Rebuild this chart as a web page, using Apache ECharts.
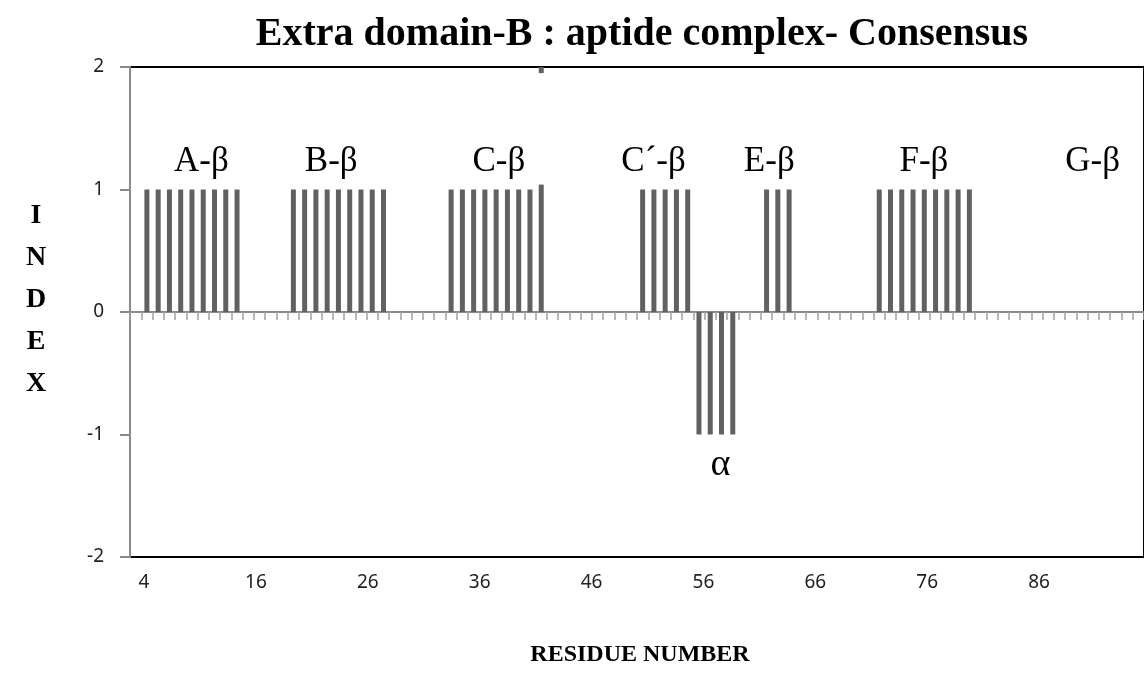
<!DOCTYPE html>
<html><head><meta charset="utf-8">
<script src="https://cdn.jsdelivr.net/npm/echarts@6/dist/echarts.min.js"></script>
<style>html,body{margin:0;padding:0;background:#fff}#c{width:1144px;height:684px}</style>
</head><body><div id="c"></div>
<script>
// Residue categories (one per bar slot)
const categories = ['4','7','8','9','10','11','12','13','14','15',
  '16','17','18','19','20','21','22','23','24','25',
  '26','27','28','29','30','31','32','33','34','35',
  '36','37','38','39','40','41','42','43','44','45',
  '46','47','48','49','50','51','52','53','54','55',
  '56','57','58','59','60','61','62','63','64','65',
  '66','67','68','69','70','71','72','73','74','75',
  '76','77','78','79','80','81','82','83','84','85',
  '86','87','88','89','90','91','92','93','94','95'];
// Tick labels shown under the plot
const tickLabels = ['4','16','26','36','46','56','66','76','86'];
// Consensus index per residue (null = no bar)
const consensus = [null,1,1,1,1,1,1,1,1,1,
  null,null,null,null,1,1,1,1,1,1,
  1,1,1,null,null,null,null,null,1,1,
  1,1,1,1,1,1,1.04,null,null,null,
  null,null,null,null,null,1,1,1,1,1,
  -1,-1,-1,-1,null,null,1,1,1,null,
  null,null,null,null,null,null,1,1,1,1,
  1,1,1,1,1,null,null,null,null,null,
  null,null,null,null,null,null,null,null,null,null];
// small mark at top edge near residue 42 (from 1.95 to 2)
const markBase = consensus.map((v,i)=> i===36 ? 1.95 : null);
const markTop  = consensus.map((v,i)=> i===36 ? 0.05 : null);
// Secondary-structure annotations
const annotationTexts = ['A-β','B-β','C-β','C´-β','E-β','F-β','G-β','α'];
const annotationCat   = [5.84, 17.36, 32.24, 45.97, 56.24, 69.97, 84.94, 51.9];
const annotationVal   = [1.23, 1.23, 1.23, 1.23, 1.23, 1.23, 1.23, -1.25];
const yMin = -2, yMax = 2, yStep = 1;

const chart = echarts.init(document.getElementById('c'));
const barColor = '#616161';
chart.setOption({
  animation: false,
  backgroundColor: '#fff',
  grid: [
    {left: 130, right: -3, top: 67, bottom: 127, show: true, borderColor: '#000', borderWidth: 2, backgroundColor: 'transparent'},
    {left: 144, right: 105, top: 67, bottom: 127, show: false}
  ],
  xAxis: [{
    type: 'category', data: categories, boundaryGap: true, gridIndex: 0,
    axisLine: {onZero: true, lineStyle: {color: '#8a8a8a', width: 2}},
    axisTick: {show: true, interval: 0, length: 8, inside: false, lineStyle: {color: '#a0a0a0', width: 1.5}},
    axisLabel: {show: false}, splitLine: {show: false}
  }, {
    type: 'category', data: tickLabels, position: 'bottom', boundaryGap: false, gridIndex: 1,
    axisLine: {show: false, onZero: false}, axisTick: {show: false},
    axisLabel: {interval: 0, margin: 16, fontFamily: 'Noto Sans', fontSize: 19, color: '#222'},
    splitLine: {show: false}
  }],
  yAxis: [{
    type: 'value', min: yMin, max: yMax, interval: yStep, gridIndex: 0,
    axisLine: {show: true, lineStyle: {color: '#8a8a8a', width: 2}},
    axisTick: {show: true, length: 10, lineStyle: {color: '#8a8a8a', width: 2}},
    axisLabel: {margin: 26, fontFamily: 'Noto Sans', fontSize: 19, color: '#222'},
    splitLine: {show: false}
  }, {
    type: 'value', min: yMin, max: yMax, gridIndex: 1, show: false
  }],
  series: [{
    type: 'bar', name: 'Consensus', data: consensus, barWidth: 5, barGap: '-100%',
    itemStyle: {color: barColor}
  }, {
    type: 'bar', data: markBase, stack: 'mark', barWidth: 5, barGap: '-100%',
    itemStyle: {color: 'transparent'}, silent: true
  }, {
    type: 'bar', data: markTop, stack: 'mark', barWidth: 5, barGap: '-100%',
    itemStyle: {color: barColor}
  }]
});

const p0 = chart.convertToPixel({xAxisIndex: 0, yAxisIndex: 0}, [0, 0]);
const p1 = chart.convertToPixel({xAxisIndex: 0, yAxisIndex: 0}, [1, 0]);
const step = p1[0] - p0[0];
const graphics = annotationTexts.map((t, i) => {
  const py = chart.convertToPixel({yAxisIndex: 0}, annotationVal[i]);
  return {
    type: 'text', x: p0[0] + step * annotationCat[i], y: py,
    style: {text: t, fill: '#000', font: (t === 'α' ? '38px' : '35px') + ' "Liberation Serif"', textAlign: 'center', textVerticalAlign: 'middle'}
  };
});
graphics.push({
  type: 'text', x: 642, y: 35,
  style: {text: 'Extra domain-B : aptide complex- Consensus', fill: '#000', font: 'bold 40px "Liberation Serif"', textAlign: 'center', textVerticalAlign: 'middle'}
});
graphics.push({
  type: 'text', x: 36, y: 300,
  style: {text: 'I\nN\nD\nE\nX', fill: '#000', font: 'bold 28px "Liberation Serif"', textAlign: 'center', textVerticalAlign: 'middle', lineHeight: 42}
});
graphics.push({
  type: 'text', x: 640, y: 655,
  style: {text: 'RESIDUE NUMBER', fill: '#000', font: 'bold 24px "Liberation Serif"', textAlign: 'center', textVerticalAlign: 'middle'}
});
chart.setOption({graphic: graphics});
</script></body></html>
